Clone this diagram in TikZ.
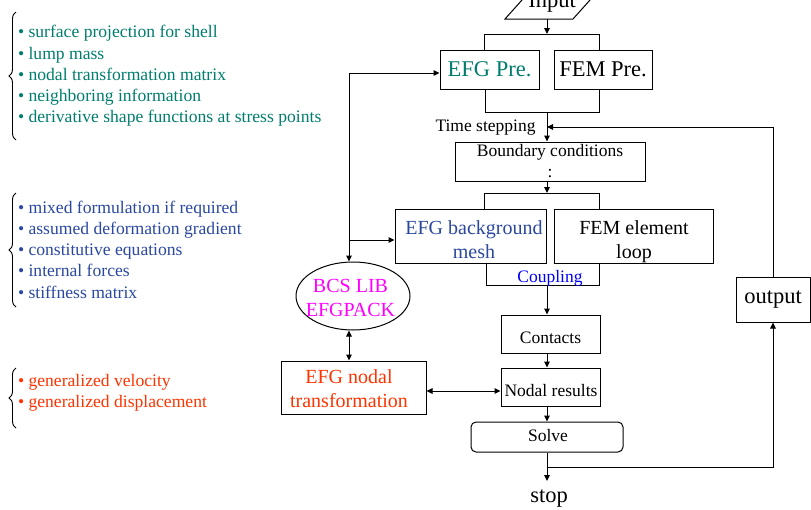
\documentclass[tikz,border=0pt]{standalone}
\usepackage{fontspec}
\setmainfont{Liberation Serif}
\usetikzlibrary{arrows.meta,shapes.geometric,decorations.pathreplacing}
\definecolor{tealc}{RGB}{0,125,108}
\definecolor{bluec}{RGB}{42,72,160}
\definecolor{redc}{RGB}{255,51,0}
\definecolor{magc}{RGB}{255,0,255}
\definecolor{cplc}{RGB}{0,0,255}
\begin{document}
\begin{tikzpicture}[x=1pt,y=-1pt, line width=1pt,
  arr/.style={-{Triangle[length=6pt,width=5.5pt]}},
  darr/.style={{Triangle[length=6pt,width=5.5pt]}-{Triangle[length=6pt,width=5.5pt]}},
  box/.style={draw, rectangle, inner sep=0pt, align=center},
  fbig/.style={font=\fontsize{22.5}{26}\selectfont},
  fmid/.style={font=\fontsize{20}{24}\selectfont},
  fsm/.style={font=\fontsize{17.5}{21}\selectfont},
  txt/.style={inner sep=0pt, align=center},
  flist/.style={font=\fontsize{17.6}{21.3}\selectfont, align=left, inner sep=0pt, anchor=west},
  brc/.style={decorate, decoration={brace, amplitude=7pt}, line width=0.9pt}
]
\useasboundingbox (0,0) rectangle (811,509);
\clip (0,0) rectangle (811,509);

% ---------- left lists ----------
\draw[brc] (16,140) -- (16,12);
\node[flist, text=tealc] (list1) at (17.5,76) {• surface projection for shell\\• lump mass\\• nodal transformation matrix\\• neighboring information\\• derivative shape functions at stress points};
\draw[brc] (16,307) -- (16,193);
\node[flist, text=bluec] (list2) at (17.5,249.5) {• mixed formulation if required\\• assumed deformation gradient\\• constitutive equations\\• internal forces\\• stiffness matrix};
\draw[brc] (16,428) -- (16,368);
\node[flist, text=redc] (list3) at (17.5,392.5) {• generalized velocity\\• generalized displacement};

% ---------- input ----------
\draw (505,19) -- (573,19) -- (607,-19) -- (539,-19) -- cycle;
\node[txt, fbig] (input) at (552,3) {Input};
\coordinate (inbot) at (547,19);
\coordinate (t1) at (547,34);
\draw[arr] (inbot) -- (t1);

% ---------- pre-processing ----------
\node[box, fbig, text=tealc, minimum width=99pt, minimum height=39pt] (efgpre) at (489.5,69.5) {EFG Pre.};
\node[box, fbig, minimum width=98pt, minimum height=39pt] (fempre) at (603,69.5) {FEM Pre.};
\draw (484,50) |- (599,34) -- (599,50);
\draw (485,89) |- (599,112) -- (599,89);

% ---------- time stepping ----------
\node[txt, fsm, anchor=east] (ts) at (536,128) {Time stepping};
\node[box, fsm, minimum width=190pt, minimum height=39pt] (bc) at (550,161.5) {Boundary conditions\\:};
\coordinate (t2) at (547,112);
\draw[arr] (t2) -- (bc.north -| t2);
\coordinate (t3) at (547,193);
\draw[arr] (bc.south -| t3) -- (t3);
\draw (484,209) |- (599,193) -- (599,209);

% ---------- element loops ----------
\node[box, minimum width=151pt, minimum height=54pt] (mesh) at (470.5,236) {};
\node[txt, fmid, text=bluec] (meshT) at (474,240) {EFG background\\mesh};
\node[box, minimum width=159pt, minimum height=54pt] (femloop) at (633.5,236) {};
\node[txt, fmid] (femloopT) at (634,242) {FEM element\\loop};
\draw (486,263) |- (599,285) -- (599,263);
\node[txt, fsm, text=cplc] (coupling) at (550,278) {Coupling};

% ---------- contacts, nodal results, solve ----------
\node[box, minimum width=99pt, minimum height=38pt] (contacts) at (550.5,334) {};
\node[txt, fsm] (contactsT) at (550.5,337.5) {Contacts};
\node[box, minimum width=99pt, minimum height=38pt] (nodal) at (550.5,387) {};
\node[txt, fsm] (nodalT) at (551,391) {Nodal results};
\node[box, fsm, rounded corners=5pt, minimum width=152pt, minimum height=30pt] (solve) at (547,437) {};
\node[txt, fsm] (solveT) at (548,435.5) {Solve};
\coordinate (t4) at (547,285);
\draw[arr] (t4) -- (contacts.north -| t4);
\draw[arr] (contacts.south -| t4) -- (nodal.north -| t4);
\draw[arr] (nodal.south -| t4) -- (solve.north -| t4);
\coordinate (stopend) at (547,481);
\draw[arr] (solve.south -| t4) -- (stopend);
\node[txt, fbig] (stop) at (549,499) {stop};

% ---------- output loop ----------
\node[box, fbig, minimum width=74pt, minimum height=45pt] (output) at (773,299.5) {output};
\coordinate (j) at (547,467);
\draw[arr] (j) -| (output.south);
\coordinate (tsj) at (547,127);
\draw[arr] (output.north) |- (tsj);

% ---------- EFG side ----------
\node[draw, ellipse, inner sep=0pt, minimum width=114pt, minimum height=68pt] (bcs) at (353,296) {};
\node[txt, fmid, text=magc] (bcsT) at (350.5,298) {BCS LIB\\EFGPACK};
\node[box, minimum width=145pt, minimum height=53pt] (efgnodal) at (353.5,387.5) {};
\node[txt, fmid, text=redc] (efgnodalT) at (349,389) {EFG nodal\\transformation};

\coordinate (lc) at (349,73);
\coordinate (lm) at (349,240);
\draw[arr] (lc) -- (lc -| efgpre.west);
\draw[arr] (lc) -- (lc |- bcs.north);
\draw[arr] (lm) -- (lm -| mesh.west);
\draw[darr] (lc |- bcs.south) -- (lc |- efgnodal.north);
\draw[darr] (efgnodal.east |- nodalT) -- (nodal.west |- nodalT);
\end{tikzpicture}
\end{document}
